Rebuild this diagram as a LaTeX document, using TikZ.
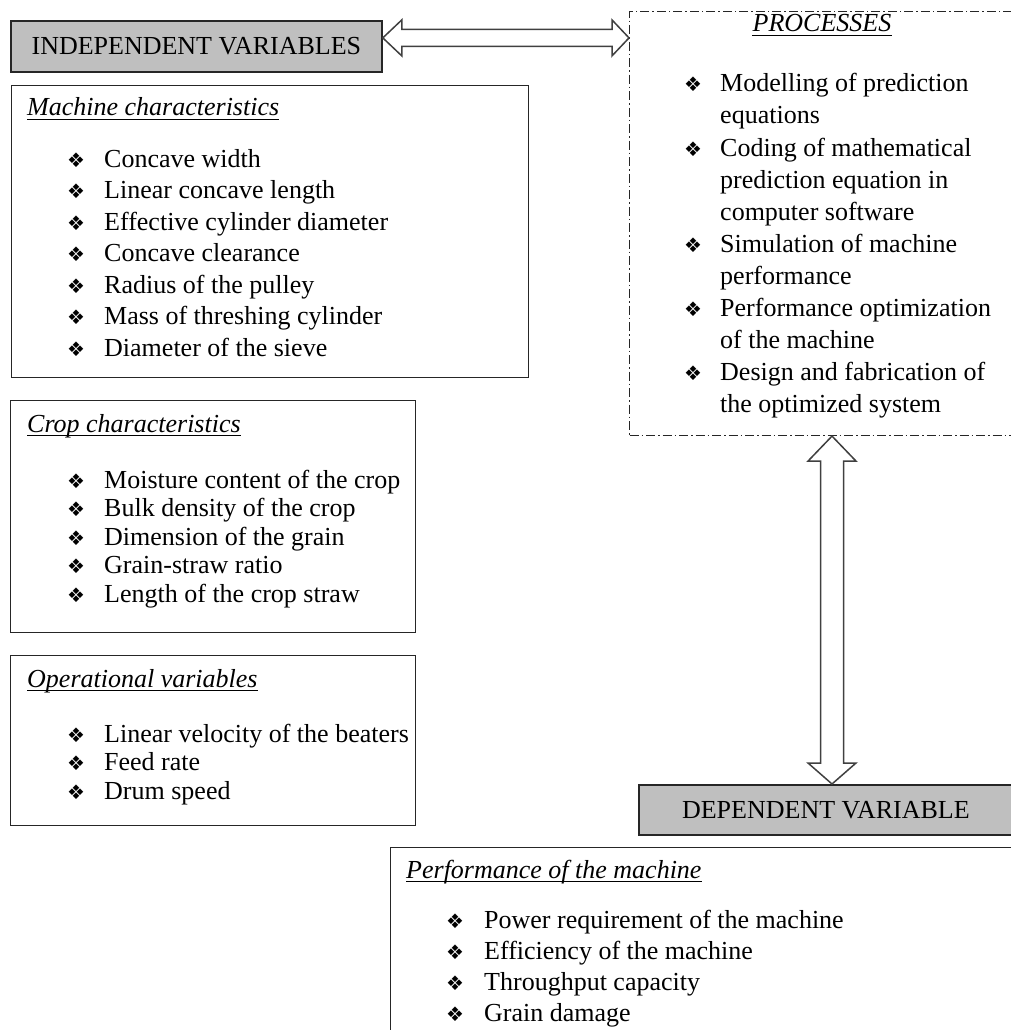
\documentclass[tikz,border=0pt]{standalone}
\usepackage{fontspec}
\setmainfont{Liberation Serif}
\newfontfamily\symfont{DejaVu Sans}
\usetikzlibrary{calc}

\tikzset{
	frame/.style={draw=black!85,line width=1.4pt,inner sep=0pt},
	headbox/.style={draw=black!85,line width=1.8pt,fill=black!25,inner sep=0pt,
		font=\fontsize{26}{30}\selectfont},
	line/.style={inner sep=0pt,anchor=base west,font=\fontsize{26}{30}\selectfont},
	title/.style={line,font=\fontsize{26}{30}\selectfont\itshape},
	bullet/.style={inner sep=0pt,anchor=base west,font=\symfont\fontsize{20}{22}\selectfont},
	fat/.style={draw=black!75,line width=1.5pt,fill=white,line join=miter},
}
\newcommand{\ulnode}[1]{\draw[line width=1.2pt] ([yshift=-3.5pt]#1.base west) -- ([yshift=-3.5pt]#1.base east);}

\begin{document}
\begin{tikzpicture}[x=1pt,y=-1pt]
	\useasboundingbox (0,0) rectangle (1010,1030);
	
	% boxes
	\node[headbox,minimum width=371pt,minimum height=51pt,anchor=north west] (indep) at (10,20) {INDEPENDENT VARIABLES};
	\node[frame,minimum width=517pt,minimum height=292pt,anchor=north west] (mach) at (11,85) {};
	\node[frame,minimum width=405pt,minimum height=232pt,anchor=north west] (crop) at (10,400) {};
	\node[frame,minimum width=405pt,minimum height=170pt,anchor=north west] (oper) at (10,655) {};
	\node[frame,line width=1.1pt,dash pattern=on 9pt off 3pt on 1.5pt off 3pt,
		minimum width=400pt,minimum height=424pt,anchor=north west] (proc) at (629,11) {};
	\node[headbox,minimum width=374pt,minimum height=50pt,anchor=north west] (dep) at (638,784) {DEPENDENT VARIABLE};
	\node[frame,minimum width=640pt,minimum height=220pt,anchor=north west] (perf) at (390,847) {};
	
	% block arrows
	\coordinate (hL) at ([yshift=8.5pt]indep.east);
	\coordinate (hR) at (hL -| proc.west);
	\draw[fat] (hL) -- ++(19,-18) -- ++(0,9.5) -- ($(hR)+(-17,-8.5)$) -- ++(0,-9.5) -- (hR)
		-- ++(-17,18) -- ++(0,-9.5) -- ($(hL)+(19,8.5)$) -- ++(0,9.5) -- cycle;
	
	\coordinate (vx) at (832,0);
	\coordinate (vT) at (proc.south -| vx);
	\coordinate (vB) at (dep.north -| vx);
	\draw[fat] (vT) -- ++(24,25) -- ++(-12.5,0) -- ($(vB)+(11.5,-21)$) -- ++(12.5,0) -- (vB)
		-- ++(-24,-21) -- ++(12.5,0) -- ($(vT)+(-11.5,25)$) -- ++(-12.5,0) -- cycle;
	
	% machine characteristics
	\node[title] (machT) at (27,116) {Machine characteristics};
	\ulnode{machT}
	\foreach \t [count=\i from 0] in {Concave width,Linear concave length,Effective cylinder diameter,
		Concave clearance,Radius of the pulley,Mass of threshing cylinder,Diameter of the sieve}{
		\node[bullet] (machB\i) at (67,{167+31.5*\i}) {❖};
		\node[line] (machI\i) at (104,{167+31.5*\i}) {\t};
	}
	
	% crop characteristics
	\node[title] (cropT) at (27,432) {Crop characteristics};
	\ulnode{cropT}
	\foreach \t [count=\i from 0] in {Moisture content of the crop,Bulk density of the crop,
		Dimension of the grain,Grain-straw ratio,Length of the crop straw}{
		\node[bullet] (cropB\i) at (67,{488+28.5*\i}) {❖};
		\node[line] (cropI\i) at (104,{488+28.5*\i}) {\t};
	}
	
	% operational variables
	\node[title] (operT) at (27,687) {Operational variables};
	\ulnode{operT}
	\foreach \t [count=\i from 0] in {Linear velocity of the beaters,Feed rate,Drum speed}{
		\node[bullet] (operB\i) at (67,{742+28.5*\i}) {❖};
		\node[line] (operI\i) at (104,{742+28.5*\i}) {\t};
	}
	
	% processes
	\node[title,anchor=base] (procT) at (822,32) {PROCESSES};
	\ulnode{procT}
	\foreach \t [count=\i from 0] in {Modelling of prediction,equations,Coding of mathematical,
		prediction equation in,computer software,Simulation of machine,performance,
		Performance optimization,of the machine,Design and fabrication of,the optimized system}{
		\node[line] (procI\i) at (720,{92+32*\i}) {\t};
	}
	\foreach \i in {0,2,5,7,9}{
		\node[bullet] (procB\i) at (684,{92+32*\i}) {❖};
	}
	
	% performance of the machine
	\node[title] (perfT) at (406,878) {Performance of the machine};
	\ulnode{perfT}
	\foreach \t [count=\i from 0] in {Power requirement of the machine,Efficiency of the machine,
		Throughput capacity,Grain damage}{
		\node[bullet] (perfB\i) at (446,{928+31.3*\i}) {❖};
		\node[line] (perfI\i) at (484,{928+31.3*\i}) {\t};
	}
\end{tikzpicture}
\end{document}
